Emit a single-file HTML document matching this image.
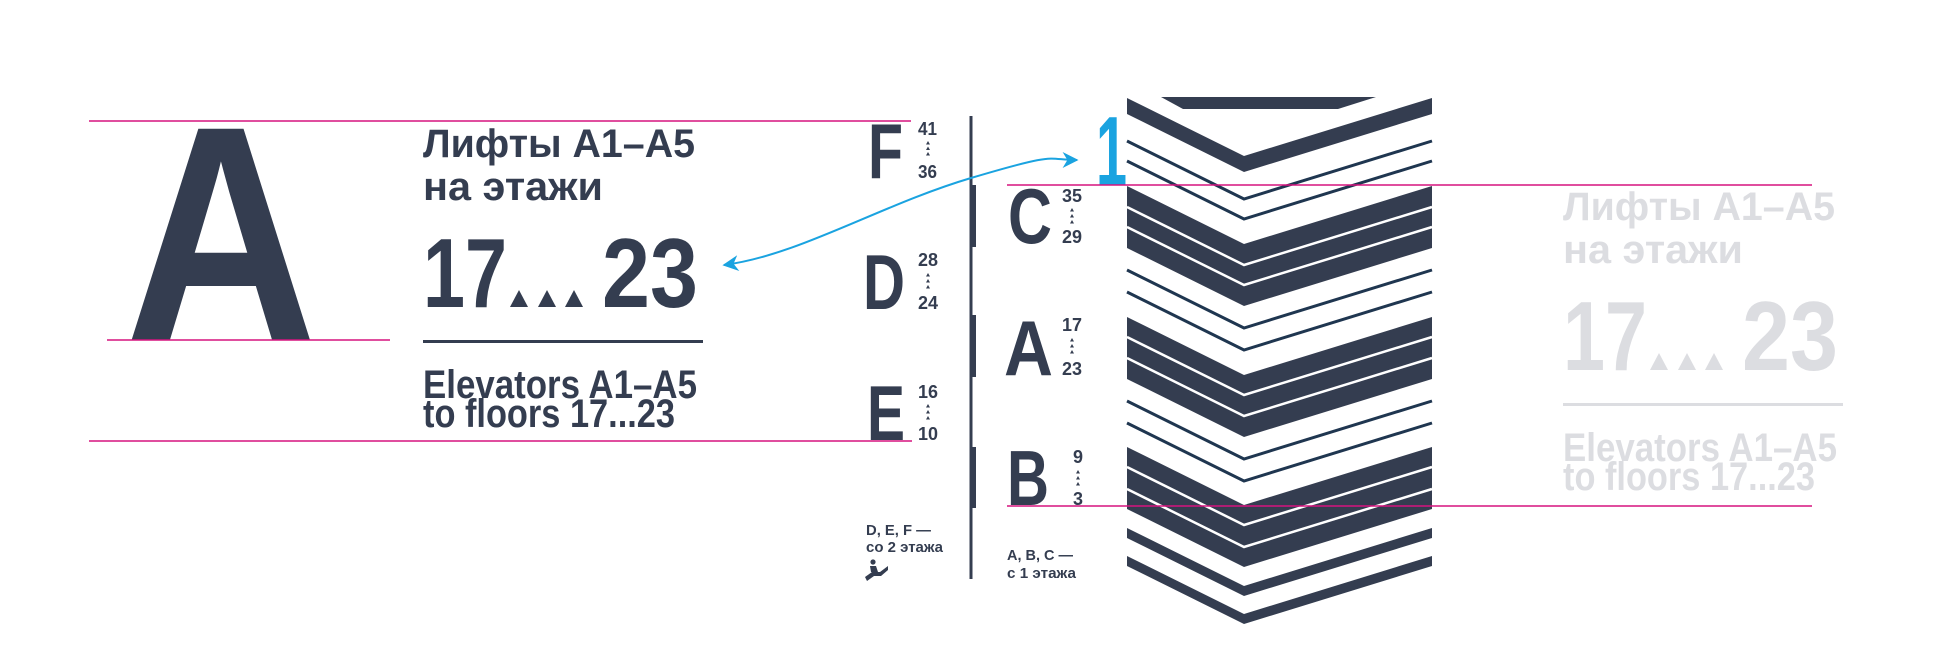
<!DOCTYPE html>
<html><head><meta charset="utf-8"><style>
html,body{margin:0;padding:0;background:#fff;}
svg{display:block;}
text{font-family:"Liberation Sans","Noto Sans CJK SC",sans-serif;font-weight:bold;}
</style></head><body>
<svg width="1935" height="654" viewBox="0 0 1935 654" xmlns="http://www.w3.org/2000/svg">
<defs>
<marker id="ah" viewBox="0 0 10 10" refX="9" refY="5" markerWidth="7" markerHeight="7" orient="auto-start-reverse" markerUnits="userSpaceOnUse"><path d="M0,0 L10,5 L0,10 L3,5 Z" fill="#1aa3e0"/></marker>
<marker id="ah2" viewBox="0 0 10 10" refX="9" refY="5" markerWidth="16" markerHeight="16" orient="auto-start-reverse" markerUnits="userSpaceOnUse"><path d="M0,0 L10,5 L0,10 L3,5 Z" fill="#1aa3e0"/></marker>
<g id="tx">
<text x="423" y="157" font-size="40" fill="currentColor" textLength="272" lengthAdjust="spacingAndGlyphs">Лифты A1–A5</text>
<text x="423" y="200" font-size="40" fill="currentColor" textLength="180" lengthAdjust="spacingAndGlyphs">на этажи</text>
<text x="423" y="307" font-size="98" fill="currentColor" textLength="84" lengthAdjust="spacingAndGlyphs">17</text>
<text x="602" y="307" font-size="98" fill="currentColor" textLength="96" lengthAdjust="spacingAndGlyphs">23</text>
<polygon points="519,290 528,307 510,307" fill="currentColor"/>
<polygon points="547,290 556,307 538,307" fill="currentColor"/>
<polygon points="574,290 583,307 565,307" fill="currentColor"/>
<rect x="423" y="340" width="280" height="3" fill="currentColor"/>
<text x="423" y="398" font-size="40" fill="currentColor" textLength="274" lengthAdjust="spacingAndGlyphs">Elevators A1–A5</text>
<text x="423" y="427" font-size="40" fill="currentColor" textLength="252" lengthAdjust="spacingAndGlyphs">to floors 17...23</text>
</g>
</defs>

<!-- big A -->
<text x="125" y="340" font-size="307" fill="#343d50" textLength="192" lengthAdjust="spacingAndGlyphs">A</text>

<use href="#tx" style="color:#343d50"/>
<use href="#tx" transform="translate(1140,63)" style="color:#dcdde1"/>

<!-- vertical line with thick segments -->
<rect x="969.5" y="116" width="3" height="463" fill="#343d50"/>
<rect x="970" y="185" width="6" height="62" fill="#343d50"/>
<rect x="970" y="315" width="6" height="62" fill="#343d50"/>
<rect x="970" y="447" width="6" height="61" fill="#343d50"/>

<!-- left column letters -->
<g fill="#343d50">
<text x="868" y="178" font-size="78" textLength="35" lengthAdjust="spacingAndGlyphs">F</text>
<text x="918" y="135" font-size="18" textLength="19" lengthAdjust="spacingAndGlyphs">41</text>
<text x="918" y="178" font-size="18" textLength="19" lengthAdjust="spacingAndGlyphs">36</text>
<text x="863" y="309" font-size="78" textLength="42" lengthAdjust="spacingAndGlyphs">D</text>
<text x="918" y="266" font-size="18" textLength="20" lengthAdjust="spacingAndGlyphs">28</text>
<text x="918" y="309" font-size="18" textLength="20" lengthAdjust="spacingAndGlyphs">24</text>
<text x="867" y="440" font-size="78" textLength="38" lengthAdjust="spacingAndGlyphs">E</text>
<text x="918" y="398" font-size="18" textLength="20" lengthAdjust="spacingAndGlyphs">16</text>
<text x="918" y="440" font-size="18" textLength="20" lengthAdjust="spacingAndGlyphs">10</text>

<text x="1008" y="243" font-size="78" textLength="44" lengthAdjust="spacingAndGlyphs">C</text>
<text x="1062" y="202" font-size="18" textLength="20" lengthAdjust="spacingAndGlyphs">35</text>
<text x="1062" y="243" font-size="18" textLength="20" lengthAdjust="spacingAndGlyphs">29</text>
<text x="1004" y="375" font-size="78" textLength="49" lengthAdjust="spacingAndGlyphs">A</text>
<text x="1062" y="331" font-size="18" textLength="20" lengthAdjust="spacingAndGlyphs">17</text>
<text x="1062" y="375" font-size="18" textLength="20" lengthAdjust="spacingAndGlyphs">23</text>
<text x="1007" y="505" font-size="78" textLength="42" lengthAdjust="spacingAndGlyphs">B</text>
<text x="1073" y="463" font-size="18" textLength="10" lengthAdjust="spacingAndGlyphs">9</text>
<text x="1073" y="505" font-size="18" textLength="10" lengthAdjust="spacingAndGlyphs">3</text>

<text x="866" y="535" font-size="15" textLength="65" lengthAdjust="spacingAndGlyphs">D, E, F —</text>
<text x="866" y="552" font-size="15" textLength="77" lengthAdjust="spacingAndGlyphs">со 2 этажа</text>
<text x="1007" y="560" font-size="15" textLength="66" lengthAdjust="spacingAndGlyphs">A, B, C —</text>
<text x="1007" y="578" font-size="15" textLength="69" lengthAdjust="spacingAndGlyphs">с 1 этажа</text>
<!-- escalator icon -->
<circle cx="873" cy="562" r="2.6"/>
<path d="M870,566 L876,566 L878,572 L871,572 Z"/>
<path d="M865,577 L872,572 L880,572 L888,566 L888,570 L881,576 L874,576 L867,581 Z"/>
</g>
<!-- tiny dotted arrows -->
<g fill="#343d50">
<path d="M928,141 l2,3.5 h-4 z M928,146.5 l2,3.5 h-4 z M928,152 l2,3.5 h-4 z"/>
<path d="M928,273 l2,3.5 h-4 z M928,279 l2,3.5 h-4 z M928,285 l2,3.5 h-4 z"/>
<path d="M928,404 l2,3.5 h-4 z M928,410 l2,3.5 h-4 z M928,416 l2,3.5 h-4 z"/>
<path d="M1072,208 l2,3.5 h-4 z M1072,214 l2,3.5 h-4 z M1072,220 l2,3.5 h-4 z"/>
<path d="M1072,338 l2,3.5 h-4 z M1072,344 l2,3.5 h-4 z M1072,350 l2,3.5 h-4 z"/>
<path d="M1078,470 l2,3.5 h-4 z M1078,476 l2,3.5 h-4 z M1078,482 l2,3.5 h-4 z"/>
</g>

<!-- chevrons -->
<g fill="#343d50">
<polygon points="1161,97 1376,97 1338,109 1183,109"/>
<polygon points="1127,98 1244,156 1432,98 1432,114 1244,172 1127,114"/>
<polygon points="1127,186 1244,244 1432,186 1432,248 1244,306 1127,248"/>
<polygon points="1127,317 1244,375 1432,317 1432,379 1244,437 1127,379"/>
<polygon points="1127,447 1244,505 1432,447 1432,509 1244,567 1127,509"/>
<polygon points="1127,528 1244,586 1432,528 1432,538 1244,596 1127,538"/>
<polygon points="1127,556 1244,614 1432,556 1432,566 1244,624 1127,566"/>
</g>
<g fill="none" stroke="#1f3650" stroke-width="3">
<polyline points="1127,141 1244,199 1432,141"/>
<polyline points="1127,161 1244,219 1432,161"/>
<polyline points="1127,270 1244,328 1432,270"/>
<polyline points="1127,292 1244,350 1432,292"/>
<polyline points="1127,401 1244,459 1432,401"/>
<polyline points="1127,423 1244,481 1432,423"/>
</g>
<g fill="none" stroke="#fff" stroke-width="2.5">
<polyline points="1127,207 1244,265 1432,207"/>
<polyline points="1127,227 1244,285 1432,227"/>
<polyline points="1127,337 1244,395 1432,337"/>
<polyline points="1127,358 1244,416 1432,358"/>
<polyline points="1127,467 1244,525 1432,467"/>
<polyline points="1127,489 1244,547 1432,489"/>
</g>

<!-- blue 1 -->
<text x="1096" y="185" font-size="98" fill="#1aa3e0" textLength="31" lengthAdjust="spacingAndGlyphs">1</text>

<!-- magenta guide lines -->
<g stroke="#d6137f" stroke-width="1.6">
<line x1="89" y1="121" x2="911" y2="121"/>
<line x1="107" y1="340" x2="390" y2="340"/>
<line x1="89" y1="441" x2="912" y2="441"/>
<line x1="1007" y1="185" x2="1812" y2="185"/>
<line x1="1007" y1="506" x2="1812" y2="506"/>
</g>

<!-- blue curved connector -->
<path d="M724,265 C800,255 880,205 971,178 S1045,160 1077,160" fill="none" stroke="#1aa3e0" stroke-width="2" marker-start="url(#ah2)" marker-end="url(#ah2)"/>
</svg>
</body></html>
